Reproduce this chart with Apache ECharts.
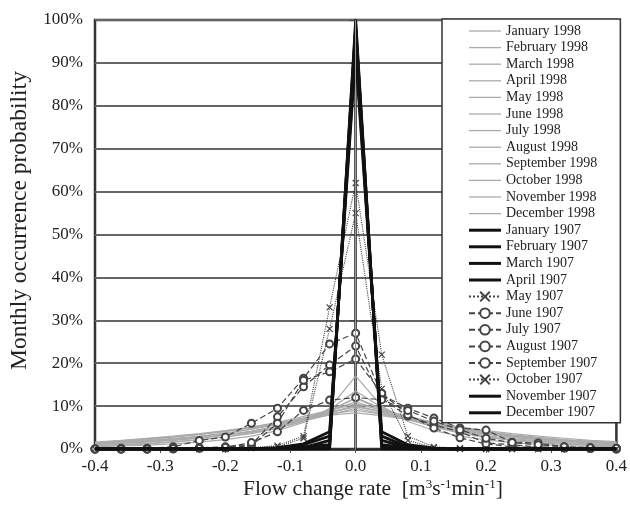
<!DOCTYPE html>
<html><head><meta charset="utf-8">
<script src="https://cdn.jsdelivr.net/npm/echarts@6/dist/echarts.min.js"></script>
<style>html,body{margin:0;padding:0;background:#fff}#c{width:630px;height:508px}</style>
</head><body><div id="c"></div>
<script>
const flowRates = [-0.4,-0.36,-0.32,-0.28,-0.24,-0.2,-0.16,-0.12,-0.08,-0.04,0,0.04,0.08,0.12,0.16,0.2,0.24,0.28,0.32,0.36,0.4];
const yTicks = [0,10,20,30,40,50,60,70,80,90,100];

const jan1998 = [1.2,1.5,1.9,2.3,2.7,3.2,4.0,5.0,6.5,8.0,9.5,8.2,6.8,5.4,4.3,3.5,2.8,2.3,1.9,1.6,1.3];
const feb1998 = [1.0,1.3,1.7,2.1,2.6,3.3,4.2,5.3,6.8,8.5,10.2,8.6,7.0,5.5,4.4,3.5,2.7,2.2,1.8,1.5,1.2];
const mar1998 = [1.5,1.9,2.4,2.9,3.5,4.2,5.1,6.2,7.6,9.0,10.5,9.1,7.6,6.2,5.0,4.0,3.2,2.6,2.1,1.7,1.4];
const apr1998 = [1.3,1.7,2.2,2.8,3.4,4.1,5.0,6.0,7.2,8.6,9.8,8.8,7.5,6.1,4.9,3.9,3.1,2.5,2.0,1.7,1.4];
const may1998 = [0.8,1.0,1.3,1.7,2.2,2.8,3.6,4.8,6.4,8.8,12.0,9.4,7.0,5.1,3.8,2.9,2.2,1.7,1.3,1.0,0.8];
const jun1998 = [0.5,0.7,0.9,1.2,1.6,2.2,3.0,4.3,6.2,9.5,17.0,10.0,6.4,4.3,3.0,2.1,1.5,1.1,0.8,0.6,0.5];
const jul1998 = [0.7,0.9,1.2,1.6,2.1,2.8,3.8,5.0,6.9,9.2,13.5,9.7,7.2,5.2,3.7,2.7,2.0,1.5,1.1,0.9,0.7];
const aug1998 = [1.1,1.4,1.8,2.3,2.9,3.6,4.6,5.8,7.2,8.9,11.0,9.0,7.3,5.8,4.6,3.6,2.8,2.2,1.8,1.4,1.1];
const sep1998 = [1.4,1.8,2.3,2.8,3.4,4.1,4.9,5.8,7.0,8.2,9.0,8.1,7.0,5.9,4.9,4.0,3.3,2.7,2.2,1.8,1.5];
const oct1998 = [1.6,2.0,2.5,3.0,3.6,4.3,5.1,6.0,7.0,7.9,8.4,7.8,6.9,6.0,5.1,4.3,3.6,3.0,2.5,2.0,1.7];
const nov1998 = [1.3,1.6,2.0,2.5,3.0,3.7,4.6,5.7,7.0,8.4,10.0,8.5,7.1,5.8,4.7,3.8,3.0,2.4,2.0,1.6,1.3];
const dec1998 = [1.0,1.3,1.6,2.0,2.5,3.2,4.1,5.3,6.9,9.0,11.8,9.2,7.0,5.4,4.1,3.1,2.4,1.9,1.5,1.2,1.0];

const jan1907 = [0,0,0,0,0,0,0,0,0,0,100,0,0,0,0,0,0,0,0,0,0];
const feb1907 = [0,0,0,0,0,0,0,0,0.5,1,98,1,0.3,0,0,0,0,0,0,0,0];
const mar1907 = [0,0,0,0,0,0,0,0.2,1,3,94,3,0.5,0,0,0,0,0,0,0,0];
const apr1907 = [0,0,0,0,0,0,0,0.3,1.2,4,92,4,1,0.2,0,0,0,0,0,0,0];
const may1907 = [0,0,0,0,0,0,0.3,0.8,3,33,62,22,3,0.5,0.2,0,0,0,0,0,0];
const jun1907 = [0,0.2,0.2,0.5,2,2.8,6,9.5,16.5,24.5,27,12.6,9.5,7.2,4.9,4.4,1.6,1.4,0.5,0.3,0.2];
const jul1907 = [0,0,0,0.2,0.3,0.5,1,7.5,14.5,19.6,24,11.7,7.7,5.6,4,1.4,1,0.5,0.3,0.2,0];
const aug1907 = [0,0,0,0,0.2,0.3,0.8,6,16,18,21,13,8,4.9,2.6,1.2,0.5,0.4,0.2,0.1,0];
const sep1907 = [0,0,0,0.1,0.2,0.4,1.5,4,9,11.4,12,11.5,9,6.5,4.5,2.5,1.5,1,0.5,0.3,0.2];
const oct1907 = [0,0,0,0,0,0,0.2,0.5,2.5,28,55,14,2,0.3,0,0,0,0,0,0,0];
const nov1907 = [0,0,0,0,0,0,0,0,0,0.5,99,0.5,0,0,0,0,0,0,0,0,0];
const dec1907 = [0,0,0,0,0,0,0,0,0.3,2,96,2,0.3,0,0,0,0,0,0,0,0];

const names1998 = ['January 1998','February 1998','March 1998','April 1998','May 1998','June 1998','July 1998','August 1998','September 1998','October 1998','November 1998','December 1998'];
const data1998 = [jan1998,feb1998,mar1998,apr1998,may1998,jun1998,jul1998,aug1998,sep1998,oct1998,nov1998,dec1998];
const names1907 = ['January 1907','February 1907','March 1907','April 1907','May 1907','June 1907','July 1907','August 1907','September 1907','October 1907','November 1907','December 1907'];
const data1907 = [jan1907,feb1907,mar1907,apr1907,may1907,jun1907,jul1907,aug1907,sep1907,oct1907,nov1907,dec1907];
const kind1907 = ['solid','solid','solid','solid','cross','circle','circle','circle','circle','cross','solid','solid'];

const FONT = 'Liberation Serif';
const pairs = arr => arr.map((v,i)=>[flowRates[i], v]);
const crossPath = 'path://M0,0L10,10M10,0L0,10';
const greyIcon = 'path://M0,0H32V1.3H0Z';
const blackIcon = 'path://M0,0H32V3H0Z';

const series = [];
const legendData = [];
data1998.forEach((d,i)=>{
  series.push({
    name: names1998[i], type:'line', data: pairs(d), symbol:'none',
    lineStyle:{color:'#ababab', width:1.2}, itemStyle:{color:'#ababab'}, z:2,
    markLine: i===0 ? {silent:true, symbol:'none', label:{show:false}, lineStyle:{color:'#9a9a9a', width:1, type:'solid'}, data:[{xAxis:0}]} : undefined
  });
  legendData.push({name:names1998[i], icon:greyIcon});
});
data1907.forEach((d,i)=>{
  const k = kind1907[i];
  const s = {name: names1907[i], type:'line', data: pairs(d), z:3};
  if (k==='solid') {
    s.symbol='none';
    s.lineStyle={color:'#111', width:2.8};
    s.itemStyle={color:'#111'};
    s.z=4;
    legendData.push({name:names1907[i], icon:blackIcon});
  } else if (k==='cross') {
    s.symbol=crossPath; s.symbolSize=6;
    s.lineStyle={color:'#444', width:1.1, type:'dotted'};
    s.itemStyle={color:'#444', borderColor:'#444', borderWidth:1.2};
    legendData.push({name:names1907[i]});
  } else {
    s.symbol='emptyCircle'; s.symbolSize=7;
    s.lineStyle={color:'#444', width:1.2, type:[6,3]};
    s.itemStyle={color:'#444', borderColor:'#444', borderWidth:1.2};
    legendData.push({name:names1907[i]});
  }
  series.push(s);
});

const chart = echarts.init(document.getElementById('c'), null, {renderer:'canvas'});
chart.setOption({
  animation:false,
  backgroundColor:'#fff',
  textStyle:{fontFamily:FONT},
  grid:{left:95, right:10, top:20, bottom:59, show:true, borderColor:'#333', borderWidth:2.5, backgroundColor:'transparent'},
  xAxis:{
    type:'value', min:-0.4, max:0.4, interval:0.1,
    axisLine:{onZero:false, lineStyle:{color:'#222', width:2.5}},
    axisTick:{show:true, length:4, lineStyle:{color:'#555'}},
    axisLabel:{fontFamily:FONT, fontSize:17, color:'#222', margin:9, formatter:v=>v.toFixed(1)},
    splitLine:{show:false}
  },
  yAxis:{
    type:'value', min:yTicks[0], max:yTicks[yTicks.length-1], interval:10,
    axisLine:{show:true, lineStyle:{color:'#222', width:2.5}},
    axisTick:{show:true, length:6, lineStyle:{color:'#444'}},
    axisLabel:{fontFamily:FONT, fontSize:17, color:'#222', margin:12, formatter:'{value}%'},
    splitLine:{show:true, lineStyle:{color:'#666', width:2}}
  },
  legend:{
    orient:'vertical', left:442, top:19,
    data: legendData,
    backgroundColor:'#fff', borderColor:'#333', borderWidth:1.5,
    padding:[5,23,3,26],
    itemWidth:32, itemHeight:12, itemGap:2.6,
    symbolKeepAspect:true,
    textStyle:{fontFamily:FONT, fontSize:14, color:'#222'},
    selectedMode:false
  },
  graphic:[
    {type:'text', x:8, y:370, rotation:Math.PI/2, style:{text:'Monthly occurrence probability', font:'23.5px "Liberation Serif"', fill:'#222'}, silent:true},
    {type:'text', x:243, y:478, style:{
      text:'Flow change rate  [m{s|3}s{s|-1}min{s|-1}]',
      font:'21.5px "Liberation Serif"', fill:'#222',
      rich:{s:{fontSize:13, verticalAlign:'top', lineHeight:21, padding:[0,0,8,0], fontFamily:FONT}}
    }, silent:true}
  ],
  series: series
});
</script>
</body></html>
